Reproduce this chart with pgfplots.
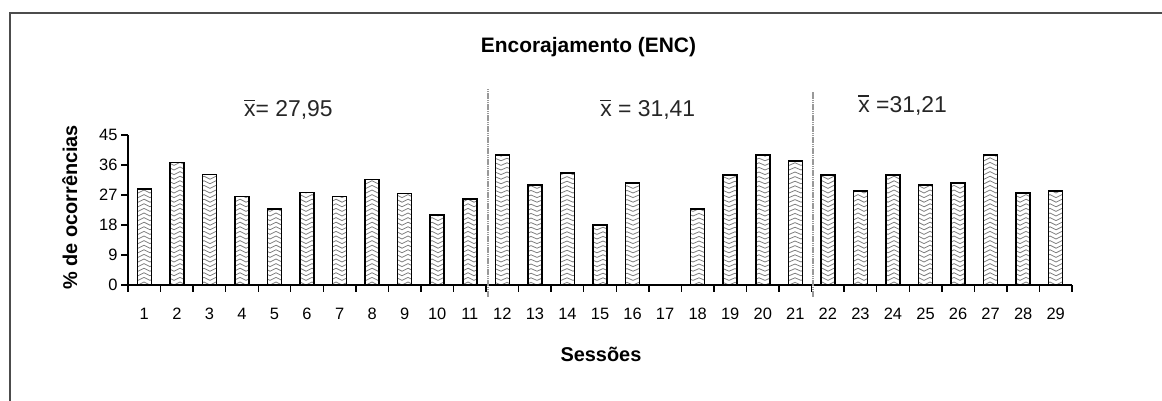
\documentclass[border=0pt]{standalone}
\usepackage{pgfplots}
\pgfplotsset{compat=1.18}
\usepackage{pgfplotstable}
\usepackage{fontspec}
\setmainfont{Liberation Sans}
\usetikzlibrary{patterns}

% hatches like the old spreadsheet fills: V, wave, inverted V
\pgfdeclarepatternformonly{chevron}{\pgfqpoint{-1bp}{-1bp}}{\pgfqpoint{13bp}{6bp}}{\pgfqpoint{12bp}{4.6bp}}{%
  \pgfsetlinewidth{0.8bp}
  \pgfpathmoveto{\pgfqpoint{0bp}{4bp}}
  \pgfpathlineto{\pgfqpoint{6bp}{1bp}}
  \pgfpathlineto{\pgfqpoint{12bp}{4bp}}
  \pgfusepath{stroke}}
\pgfdeclarepatternformonly{wave}{\pgfqpoint{-1bp}{-1bp}}{\pgfqpoint{13bp}{6bp}}{\pgfqpoint{12bp}{4.6bp}}{%
  \pgfsetlinewidth{0.8bp}
  \pgfpathmoveto{\pgfqpoint{0bp}{2.3bp}}
  \pgfpathcurveto{\pgfqpoint{2bp}{4bp}}{\pgfqpoint{4bp}{4bp}}{\pgfqpoint{6bp}{2.3bp}}
  \pgfpathcurveto{\pgfqpoint{8bp}{0.6bp}}{\pgfqpoint{10bp}{0.6bp}}{\pgfqpoint{12bp}{2.3bp}}
  \pgfusepath{stroke}}
\pgfdeclarepatternformonly{arch}{\pgfqpoint{-1bp}{-1bp}}{\pgfqpoint{13bp}{6bp}}{\pgfqpoint{12bp}{4.6bp}}{%
  \pgfsetlinewidth{0.8bp}
  \pgfpathmoveto{\pgfqpoint{0bp}{1bp}}
  \pgfpathlineto{\pgfqpoint{6bp}{4bp}}
  \pgfpathlineto{\pgfqpoint{12bp}{1bp}}
  \pgfusepath{stroke}}

\newcommand{\xbar}{\leavevmode\rlap{\rule[0.70em]{0.48em}{0.055em}}x}

% sessions 1-11
\pgfplotstableread{
sessao valor
1 28.8
2 36.7
3 33.1
4 26.5
5 22.8
6 27.7
7 26.5
8 31.7
9 27.5
10 21.0
11 25.8
}\faseA
% sessions 12-21 (17 has no value)
\pgfplotstableread{
sessao valor
12 39.0
13 30.0
14 33.6
15 18.0
16 30.6
18 22.8
19 33.0
20 39.0
21 37.2
}\faseB
% sessions 22-29
\pgfplotstableread{
sessao valor
22 33.0
23 28.2
24 33.0
25 30.0
26 30.6
27 39.0
28 27.6
29 28.2
}\faseC

\begin{document}
\begin{tikzpicture}
\useasboundingbox (0,0) rectangle (1162bp,401bp);
\draw[line width=1.6bp, black!70] (10bp,0) -- (10bp,388bp) -- (1162bp,388bp);
\begin{axis}[
    at={(128bp,116bp)}, anchor=south west,
    scale only axis, width=944bp, height=150bp,
    xmin=0.5, xmax=29.5, ymin=0, ymax=45,
    axis x line=bottom, axis y line=left,
    axis line style={line width=1.8bp, -},
    clip=false,
    tick align=outside,
    major tick length=7bp, minor tick length=7bp,
    xtick={1,...,29},
    xticklabels={1,2,3,4,5,6,7,8,9,10,11,12,13,14,15,16,17,18,19,20,21,22,23,24,25,26,27,28,29},
    minor xtick={0.5,1.5,...,29.5},
    major x tick style={draw=none},
    minor x tick style={black, line width=1.4bp},
    ytick={0,9,...,45},
    major y tick style={black, line width=1.4bp},
    /pgf/number format/assume math mode=true,
    ticklabel style={font=\fontsize{16.5}{16.5}\selectfont},
    xticklabel style={anchor=base, yshift=-27bp},
    title={\textbf{Encorajamento (ENC)}},
    title style={at={(axis description cs:0.4878,1.513)}, anchor=base, font=\fontsize{21}{21}\selectfont},
    xlabel={\textbf{Sessões}},
    xlabel style={at={(axis description cs:0.501,-0.507)}, anchor=base, font=\fontsize{20}{20}\selectfont},
    ylabel={\textbf{\% de ocorrências}},
    ylabel style={at={(axis description cs:-0.054,0.517)}, anchor=base, rotate=0, font=\fontsize{20}{20}\selectfont},
    bars/.style={ybar, bar width=14bp, draw=black, line width=1.5bp, pattern color=black!50},
    divider/.style={black!40, line width=2bp, dash pattern=on 1.6bp off 0.6bp},
]
\addplot[bars, pattern=chevron] table[x=sessao, y=valor] {\faseA};
\addplot[bars, pattern=wave]    table[x=sessao, y=valor] {\faseB};
\addplot[bars, pattern=arch]    table[x=sessao, y=valor] {\faseC};
\addplot[divider] coordinates {(11.55,-3.6) (11.55,59)};
\addplot[divider] coordinates {(21.55,-3.6) (21.55,58)};
\node[anchor=base west, font=\fontsize{23}{23}\selectfont, text=black!85] at (axis cs:3.96,50.4) {\xbar= 27,95};
\node[anchor=base west, font=\fontsize{23}{23}\selectfont, text=black!85] at (axis cs:14.90,50.4) {\xbar{} = 31,41};
\node[anchor=base west, font=\fontsize{23}{23}\selectfont, text=black!85] at (axis cs:22.83,51.7) {\xbar{} =31,21};
\end{axis}
\end{tikzpicture}
\end{document}
